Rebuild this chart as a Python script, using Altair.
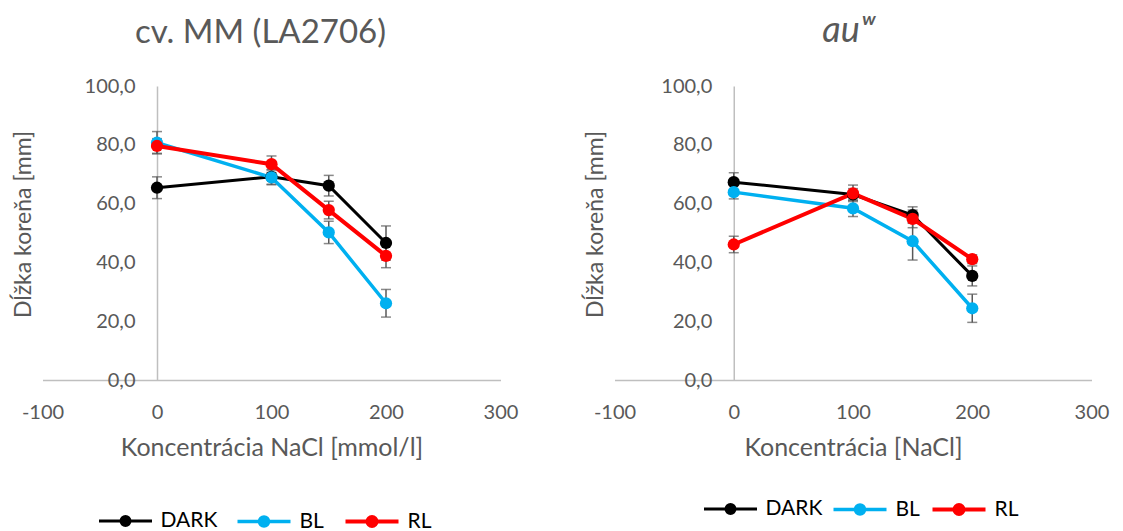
import altair as alt
import pandas as pd

# ---------------- data ----------------
conc = [0, 100, 150, 200]
series = ["DARK", "BL", "RL"]
colors = ["#000000", "#00b0f0", "#ff0000"]
line_widths = [3, 4, 2.5]

x_ticks = [-100, 0, 100, 200, 300]
y_ticks = [0, 20, 40, 60, 80, 100]

# cv. MM (LA2706)
mm_dark = [65.4, 69.1, 66.1, 46.6]
mm_bl = [80.7, 68.9, 50.2, 26.1]
mm_rl = [79.6, 73.4, 57.8, 42.2]
mm_dark_err = [3.7, 2.5, 3.5, 5.8]
mm_bl_err = [3.8, 2.5, 3.8, 4.7]
mm_rl_err = [2.5, 2.8, 3.0, 4.0]

# au^w
au_dark = [67.3, 63.1, 56.1, 35.4]
au_bl = [63.9, 58.4, 47.2, 24.4]
au_rl = [46.1, 63.5, 54.8, 41.1]
au_dark_err = [3.2, 2.0, 2.8, 3.4]
au_bl_err = [2.3, 2.8, 6.4, 4.8]
au_rl_err = [2.8, 2.8, 3.0, 1.5]

FONT = "Lato"
GRAY = "#595959"
AXIS_GRAY = "#bfbfbf"
H = 294

# legend symbol: line segment with a (stroke-filled) circle in the middle
def _circle(r):
    return f"M{r},0A{r},{r},0,1,1,{-r},0A{r},{r},0,1,1,{r},0"

SYM = "M-1,0L1,0" + _circle(0.170) + _circle(0.113) + _circle(0.057)


def make_df(vals, errs):
    rows = []
    for s, v, e in zip(series, vals, errs):
        for c, vv, ee in zip(conc, v, e):
            rows.append({"series": s, "conc": c, "val": vv,
                         "lo": vv - ee, "hi": vv + ee})
    return pd.DataFrame(rows)


def panel(df, title, title_style, title_size, xtitle, width, ytitle_x,
          legend_x, legend_y, col_pad, title_dx):
    xscale = alt.Scale(domain=[-100, 300], nice=False, zero=False)
    xaxis = alt.Axis(values=x_ticks, labelExpr="'' + datum.value",
                     title=xtitle, ticks=False, grid=False,
                     domainColor=AXIS_GRAY, domainWidth=1.5,
                     labelPadding=22, labelFlush=False, titlePadding=13,
                     labelColor=GRAY, titleColor=GRAY,
                     labelFontSize=20, titleFontSize=25,
                     labelFont=FONT, titleFont=FONT,
                     titleFontWeight="normal")
    yscale = alt.Scale(domain=[0, 100], nice=False)
    yaxis = alt.Axis(values=y_ticks,
                     labelExpr="replace(format(datum.value, '.1f'), '.', ',')",
                     title="Dĺžka koreňa [mm]", offset=-width / 4,
                     ticks=False, grid=False,
                     domainColor=AXIS_GRAY, domainWidth=1.5,
                     labelPadding=22, labelFlush=False,
                     labelColor=GRAY, titleColor=GRAY,
                     labelFontSize=20, titleFontSize=23,
                     labelFont=FONT, titleFont=FONT,
                     titleFontWeight="normal",
                     titleX=ytitle_x, titleY=138,
                     titleBaseline="bottom", titleAlign="center")

    x = alt.X("conc:Q", scale=xscale, axis=xaxis)

    err = alt.Chart().mark_errorbar(
        ticks=True, size=10, thickness=1.5, color=GRAY, orient="vertical"
    ).encode(
        x=x,
        y=alt.Y("lo:Q", scale=yscale, axis=yaxis),
        y2="hi:Q",
    )

    line = alt.Chart().mark_line().encode(
        x=x,
        y=alt.Y("val:Q", scale=yscale, axis=yaxis),
        color=alt.Color("series:N",
                        scale=alt.Scale(domain=series, range=colors),
                        legend=alt.Legend(
                            title=None, orient="none",
                            legendX=legend_x, legendY=legend_y,
                            direction="horizontal", gridAlign="none",
                            symbolType=SYM, symbolSize=2809,
                            symbolStrokeWidth=3,
                            labelFontSize=21, labelFont=FONT,
                            labelColor="#000000", labelOffset=7,
                            columnPadding=col_pad)),
        strokeWidth=alt.StrokeWidth("series:N",
                                    scale=alt.Scale(domain=series,
                                                    range=line_widths),
                                    legend=None),
        detail="series:N",
    )

    pts = alt.Chart().mark_point(filled=True, size=150, opacity=1).encode(
        x=x,
        y=alt.Y("val:Q", scale=yscale, axis=yaxis),
        color=alt.Color("series:N",
                        scale=alt.Scale(domain=series, range=colors),
                        legend=None),
    )

    return alt.layer(err, line, pts, data=df).properties(
        width=width, height=H,
        title=alt.TitleParams(text=title, font=FONT, fontSize=title_size,
                              fontWeight="normal", fontStyle=title_style,
                              color=GRAY, offset=26, dx=title_dx),
    )


left = panel(make_df([mm_dark, mm_bl, mm_rl],
                     [mm_dark_err, mm_bl_err, mm_rl_err]),
             "cv. MM (LA2706)", "normal", 33, "Koncentrácia NaCl [mmol/l]",
             458, -121.5, 55, 407, 13, -11)
right = panel(make_df([au_dark, au_bl, au_rl],
                      [au_dark_err, au_bl_err, au_rl_err]),
              "auʷ", "italic", 36, "Koncentrácia [NaCl]",
              477, -126, 88, 395, 4, -5)

chart = alt.hconcat(left, right, spacing=66).resolve_scale(
    color="independent", strokeWidth="independent"
).resolve_legend(color="independent").configure_view(
    stroke=None
).properties(
    padding={"left": 4.5, "top": 5, "right": 0, "bottom": 0},
    background="white",
)

chart.save("out.html", embed_options={"renderer": "svg", "actions": False})
